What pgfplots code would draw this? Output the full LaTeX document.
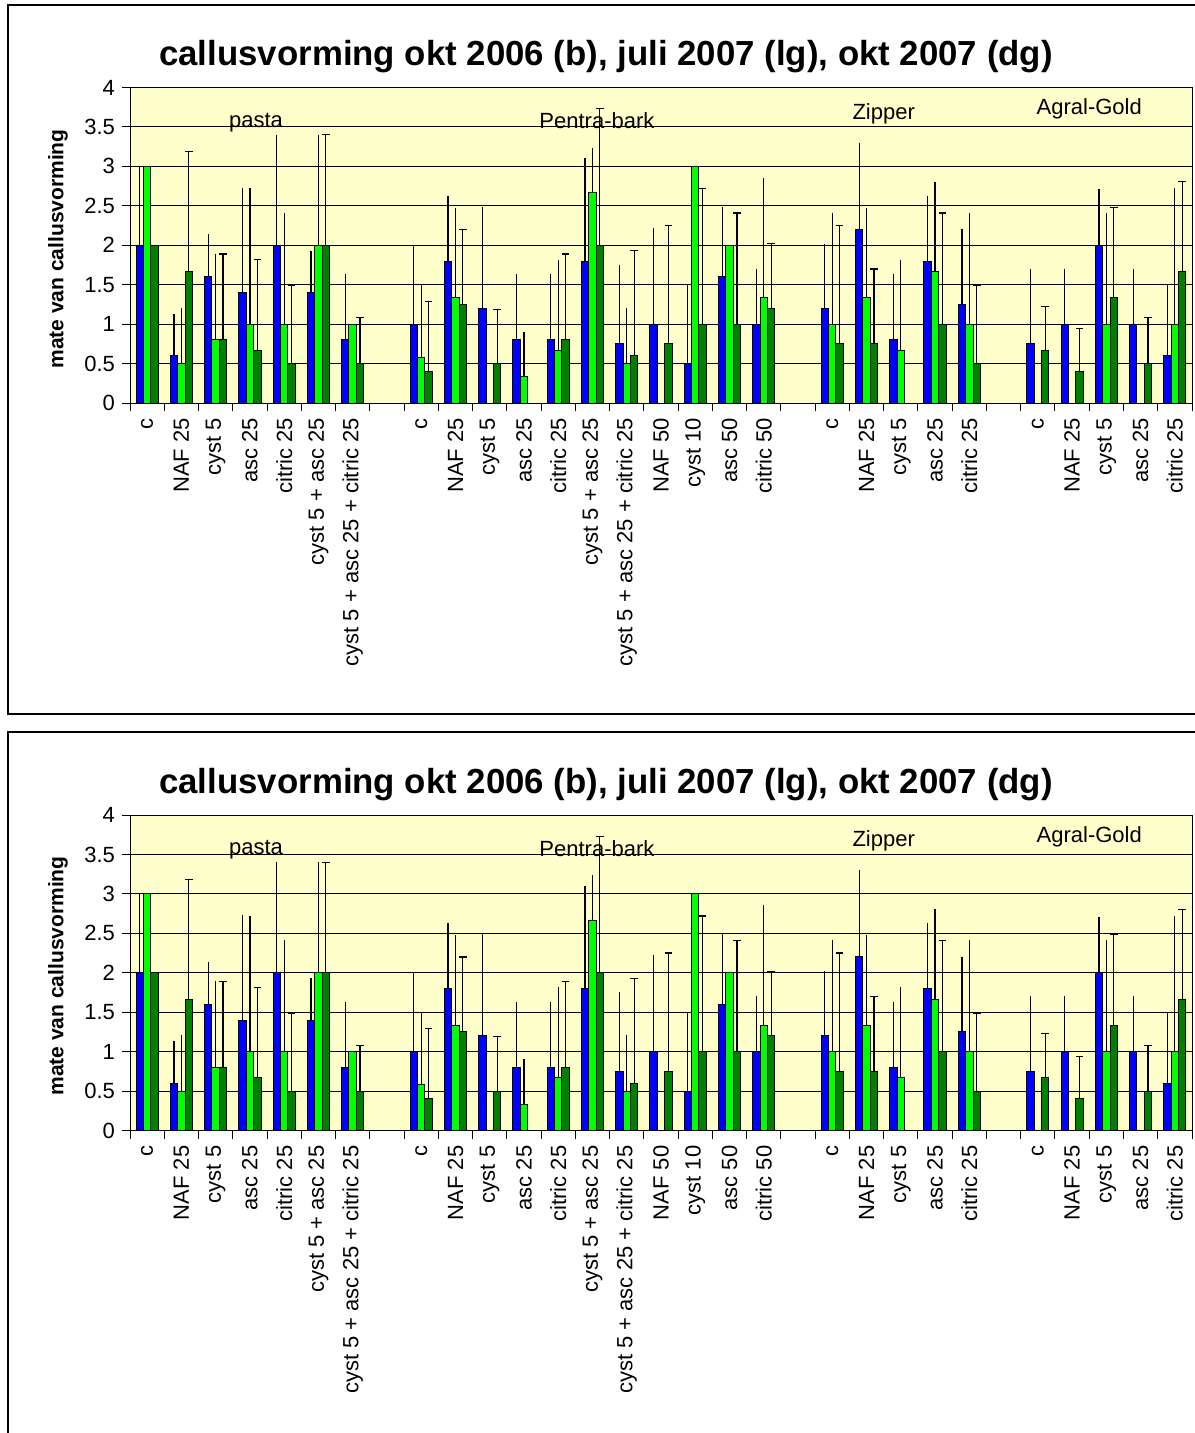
\documentclass[border=0pt]{standalone}
\usepackage{fontspec}
\setmainfont{Liberation Sans}
\usepackage{pgfplots}
\usepackage{pgfplotstable}
\pgfplotsset{compat=1.18}
\definecolor{cb}{RGB}{0,0,255}
\definecolor{clg}{RGB}{0,255,0}
\definecolor{cdg}{RGB}{0,128,0}
\definecolor{bgy}{RGB}{255,255,204}

\pgfplotstableread{
x y e
0 2.0 1.0
1 0.6 0.53
2 1.6 0.54
3 1.4 1.33
4 2.0 1.40
5 1.4 0.53
6 0.8 0.83
8 1.0 1.0
9 1.8 0.83
10 1.2 1.29
11 0.8 0.83
12 0.8 0.83
13 1.8 1.30
14 0.75 1.0
15 1.0 1.22
16 0.5 0.99
17 1.6 0.89
18 1.0 0.70
20 1.2 0.82
21 2.2 1.10
22 0.8 0.83
23 1.8 0.83
24 1.25 0.95
26 0.75 0.95
27 1.0 0.70
28 2.0 0.71
29 1.0 0.70
30 0.6 0.89
}\tblb

\pgfplotstableread{
x y e
0 3.0 0
1 0.5 0.71
2 0.8 1.09
3 1.0 1.72
4 1.0 1.41
5 2.0 1.40
6 1.0 0
8 0.583 0.91
9 1.333 1.14
11 0.333 0.57
12 0.667 1.15
13 2.667 0.57
14 0.5 0.71
16 3.0 0
17 2.0 0
18 1.333 1.52
20 1.0 1.41
21 1.333 1.14
22 0.667 1.15
23 1.667 1.14
24 1.0 1.41
28 1.0 1.41
30 1.0 1.72
}\tbllg

\pgfplotstableread{
x y e
0 2.0 0
1 1.667 1.52
2 0.8 1.09
3 0.667 1.15
4 0.5 0.99
5 2.0 1.40
6 0.5 0.58
8 0.4 0.89
9 1.25 0.95
10 0.5 0.69
12 0.8 1.09
13 2.0 1.73
14 0.6 1.33
15 0.75 1.50
16 1.0 1.72
17 1.0 1.41
18 1.2 0.82
20 0.75 1.50
21 0.75 0.95
23 1.0 1.41
24 0.5 0.99
26 0.667 0.56
27 0.4 0.54
28 1.333 1.15
29 0.5 0.58
30 1.667 1.14
}\tbldg

\newcommand\lbl{\fontsize{11}{13}\selectfont}

\pgfplotsset{mychart/.style={
  anchor=south west, scale only axis, width=531pt, height=157.75pt,
  xmin=-0.5, xmax=30.5, ymin=0, ymax=4,
  axis background/.style={fill=bgy},
  axis line style={black, line width=0.5pt},
  ybar,
  ytick={0,0.5,1,1.5,2,2.5,3,3.5,4},
  ytick pos=left, xtick pos=bottom,
  tick align=outside,
  major tick length=4pt, minor tick length=4pt,
  tick style={black, line width=0.5pt},
  ymajorgrids, major grid style={black, line width=0.5pt},
  xtick={0,...,30},
  major x tick style={draw=none},
  minor xtick={-0.5,0.5,...,30.5},
  xticklabels={c,NAF 25,cyst 5,asc 25,citric 25,cyst 5 + asc 25,cyst 5 + asc 25 + citric 25,{},
    c,NAF 25,cyst 5,asc 25,citric 25,cyst 5 + asc 25,cyst 5 + asc 25 + citric 25,NAF 50,cyst 10,asc 50,citric 50,{},
    c,NAF 25,cyst 5,asc 25,citric 25,{},
    c,NAF 25,cyst 5,asc 25,citric 25},
  xticklabel style={rotate=90, anchor=east, font=\lbl},
  yticklabel style={font=\lbl},
  /pgf/number format/assume math mode=true,
  clip=false,
}}

\newcommand\chartbody{%
  \addplot[bar width=0.216, bar shift=-0.216, fill=cb, draw=black, line width=0.5pt,
    error bars/.cd, y dir=plus, y explicit, error mark=none,
    error bar style={black, line width=0.6pt}]
    table[x=x, y=y, y error=e] {\tblb};
  \addplot[bar width=0.216, bar shift=0, fill=clg, draw=black, line width=0.5pt,
    error bars/.cd, y dir=plus, y explicit, error mark=none,
    error bar style={black, line width=0.6pt}]
    table[x=x, y=y, y error=e] {\tbllg};
  \addplot[bar width=0.216, bar shift=0.216, fill=cdg, draw=black, line width=0.5pt,
    error bars/.cd, y dir=plus, y explicit, error mark=-,
    error mark options={black, line width=0.6pt, mark size=1.9pt, rotate=90},
    error bar style={black, line width=0.6pt}]
    table[x=x, y=y, y error=e] {\tbldg};
  \node[font=\lbl] at (axis cs:3.18,3.56) {pasta};
  \node[font=\lbl] at (axis cs:13.13,3.58) {Pentra-bark};
  \node[font=\lbl] at (axis cs:21.5,3.67) {Zipper};
  \node[font=\lbl] at (axis cs:27.5,3.73) {Agral-Gold};
}

\begin{document}
\begin{tikzpicture}
\useasboundingbox (0,0) rectangle (597pt,-716.5pt);
\draw[line width=0.75pt] (4pt,-2.5pt) rectangle (605pt,-357pt);
\draw[line width=0.75pt] (4pt,-366pt) rectangle (605pt,-725pt);

\node[anchor=base, font=\fontsize{17.4}{20}\selectfont\bfseries] at (303pt,-33pt)
  {callusvorming okt 2006 (b), juli 2007 (lg), okt 2007 (dg)};
\node[rotate=90, font=\fontsize{10.5}{12}\selectfont\bfseries] at (29pt,-124.5pt)
  {mate van callusvorming};
\begin{axis}[mychart, at={(65pt,-201.5pt)}]
\chartbody
\end{axis}

\node[anchor=base, font=\fontsize{17.4}{20}\selectfont\bfseries] at (303pt,-396.5pt)
  {callusvorming okt 2006 (b), juli 2007 (lg), okt 2007 (dg)};
\node[rotate=90, font=\fontsize{10.5}{12}\selectfont\bfseries] at (29pt,-488pt)
  {mate van callusvorming};
\begin{axis}[mychart, at={(65pt,-565.25pt)}]
\chartbody
\end{axis}
\end{tikzpicture}
\end{document}
